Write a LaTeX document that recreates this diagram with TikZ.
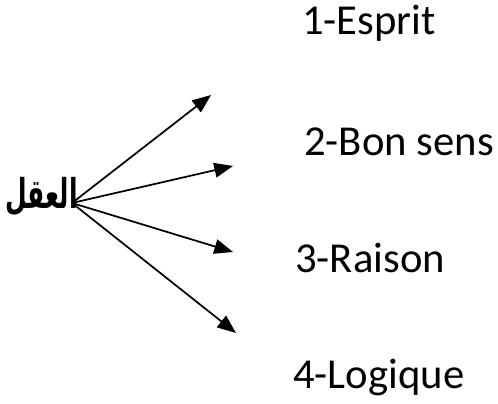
\documentclass[tikz,border=0pt]{standalone}
\usepackage{fontspec}
\setmainfont{Carlito}
\newfontfamily\arabicfont[Script=Arabic]{DejaVu Sans}
\TeXXeTstate=1
\usetikzlibrary{positioning,arrows.meta}

\begin{document}
\begin{tikzpicture}[
    x=0.75pt, y=-0.75pt,
    item/.style={anchor=base west, inner sep=0pt, font=\fontsize{32}{38}\selectfont},
    branch/.style={line width=1.3pt, -{Triangle[length=14pt, width=11pt]}}
]
\useasboundingbox (0,0) rectangle (498,403);

% Central word
\node[anchor=east, inner sep=0pt, font=\arabicfont\bfseries\fontsize{22}{26}\selectfont] (aql) at (78,197) {\scalebox{0.85}[1.4]{\beginR العقل\endR}};
\coordinate (hub) at (72,203);

% List items
\node[item] (esprit) at (302,35) {1-Esprit};
\node[item] (bonsens) at (304,155) {2-Bon sens};
\node[item] (raison) at (295,272) {3-Raison};
\node[item] (logique) at (293,388) {4-Logique};

% Arrow tips
\coordinate (t1) at (211,95);
\coordinate (t2) at (233,166);
\coordinate (t3) at (233,252);
\coordinate (t4) at (236,333);

\draw[branch] (hub) -- (t1);
\draw[branch] (hub) -- (t2);
\draw[branch] (hub) -- (t3);
\draw[branch] (hub) -- (t4);

\end{tikzpicture}
\end{document}
